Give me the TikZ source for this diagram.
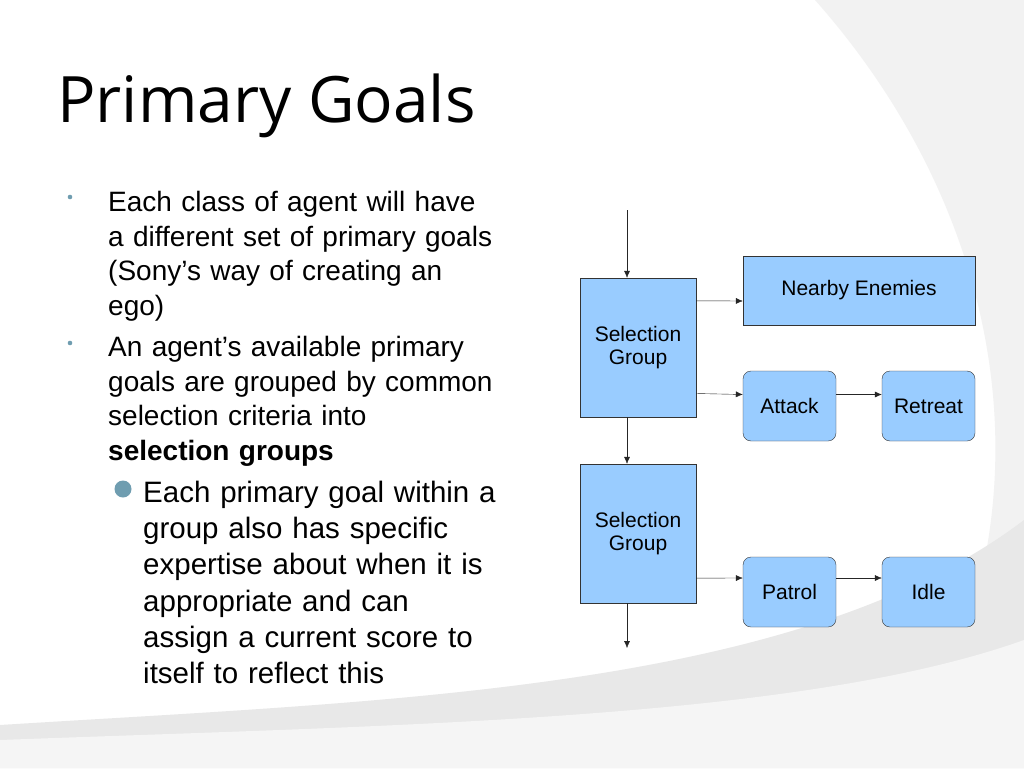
\documentclass[tikz,border=0pt]{standalone}
\usepackage{fontspec}
\setmainfont{Liberation Sans}
\newfontfamily\titlefont{Open Sans}
\usetikzlibrary{positioning,calc,arrows.meta}
\definecolor{boxblue}{HTML}{99CCFF}
\definecolor{dotblue}{HTML}{6F9DB0}
\tikzset{
  grp/.style={draw=black!80,fill=boxblue,minimum width=116pt,minimum height=139pt,align=center,font=\fontsize{21}{23}\selectfont,inner sep=0pt},
  goal/.style={draw=black!80,fill=boxblue,rounded corners=8pt,minimum width=93pt,minimum height=70pt,font=\fontsize{21}{23}\selectfont,inner sep=0pt},
  link/.style={-{Latex[length=7pt,width=6pt]},black!85}
}
\begin{document}
\begin{tikzpicture}[x=1pt,y=-1pt]
  \useasboundingbox (0,0) rectangle (1024,768);
  \fill[white] (0,0) rectangle (1024,768);
  % background sweeps
  \fill[black!5] (815,0) .. controls (1010,220) and (1060,520) .. (900,768) -- (1024,768) -- (1024,0) -- cycle;
  \fill[black!9] (0,725) .. controls (400,700) and (800,690) .. (1024,520) -- (1024,768) -- (0,768) -- cycle;
  \fill[black!4] (0,740) .. controls (400,725) and (800,720) .. (1024,640) -- (1024,768) -- (0,768) -- cycle;
  % title and text
  \node[anchor=base west,inner sep=0pt,font=\titlefont\fontsize{64}{70}\selectfont] (title) at (57,122) {Primary Goals};
  \node[anchor=north west,inner sep=0pt,text width=440pt,font=\fontsize{28}{34.6}\selectfont] (txt1) at (108,191)
    {Each class of agent will have\\a different set of primary goals\\(Sony's way of creating an\\ego)};
  \node[anchor=north west,inner sep=0pt,text width=440pt,font=\fontsize{28}{34.6}\selectfont] (txt2) at (108,336)
    {An agent's available primary\\goals are grouped by common\\selection criteria into\\\textbf{selection groups}};
  \node[anchor=north west,inner sep=0pt,text width=440pt,font=\fontsize{29.5}{36.2}\selectfont] (txt3) at (143,481)
    {Each primary goal within a\\group also has specific\\expertise about when it is\\appropriate and can\\assign a current score to\\itself to reflect this};
  \fill[dotblue] (70,197) circle (2.3pt);
  \fill[dotblue] (70,343) circle (2.3pt);
  \fill[dotblue] (123,489) circle (8.5pt);
  % diagram
  \node[grp] (sg1) at (638,347.5) {Selection\\Group};
  \node[grp] (sg2) at (638,533.5) {Selection\\Group};
  \node[draw=black!80,fill=boxblue,minimum width=232pt,minimum height=69pt,font=\fontsize{21}{23}\selectfont,inner sep=0pt] (near) at (859,290.5) {Nearby Enemies};
  \node[goal] (attack) at (789.5,406) {Attack};
  \node[goal] (retreat) at (928.5,406) {Retreat};
  \node[goal] (patrol) at (789.5,592) {Patrol};
  \node[goal] (idle) at (928.5,592) {Idle};
  \coordinate (in) at (627,210);
  \coordinate (out) at (627,648);
  \draw[link] (in) -- (in |- sg1.north);
  \draw[link] (in |- sg1.south) -- (in |- sg2.north);
  \draw[link] (in |- sg2.south) -- (out);
  \draw[link] ($(sg1.north east)!0.165!(sg1.south east)$) -- (near.west |- {(0,301)});
  \draw[link] ($(sg1.north east)!0.83!(sg1.south east)$) -- (attack.west |- {(0,394.5)});
  \draw[link] ($(sg2.north east)!0.82!(sg2.south east)$) -- (patrol.west |- {(0,578)});
  \draw[link] (attack.east |- {(0,394.5)}) -- (retreat.west |- {(0,394.5)});
  \draw[link] (patrol.east |- {(0,578)}) -- (idle.west |- {(0,578)});
\end{tikzpicture}
\end{document}
